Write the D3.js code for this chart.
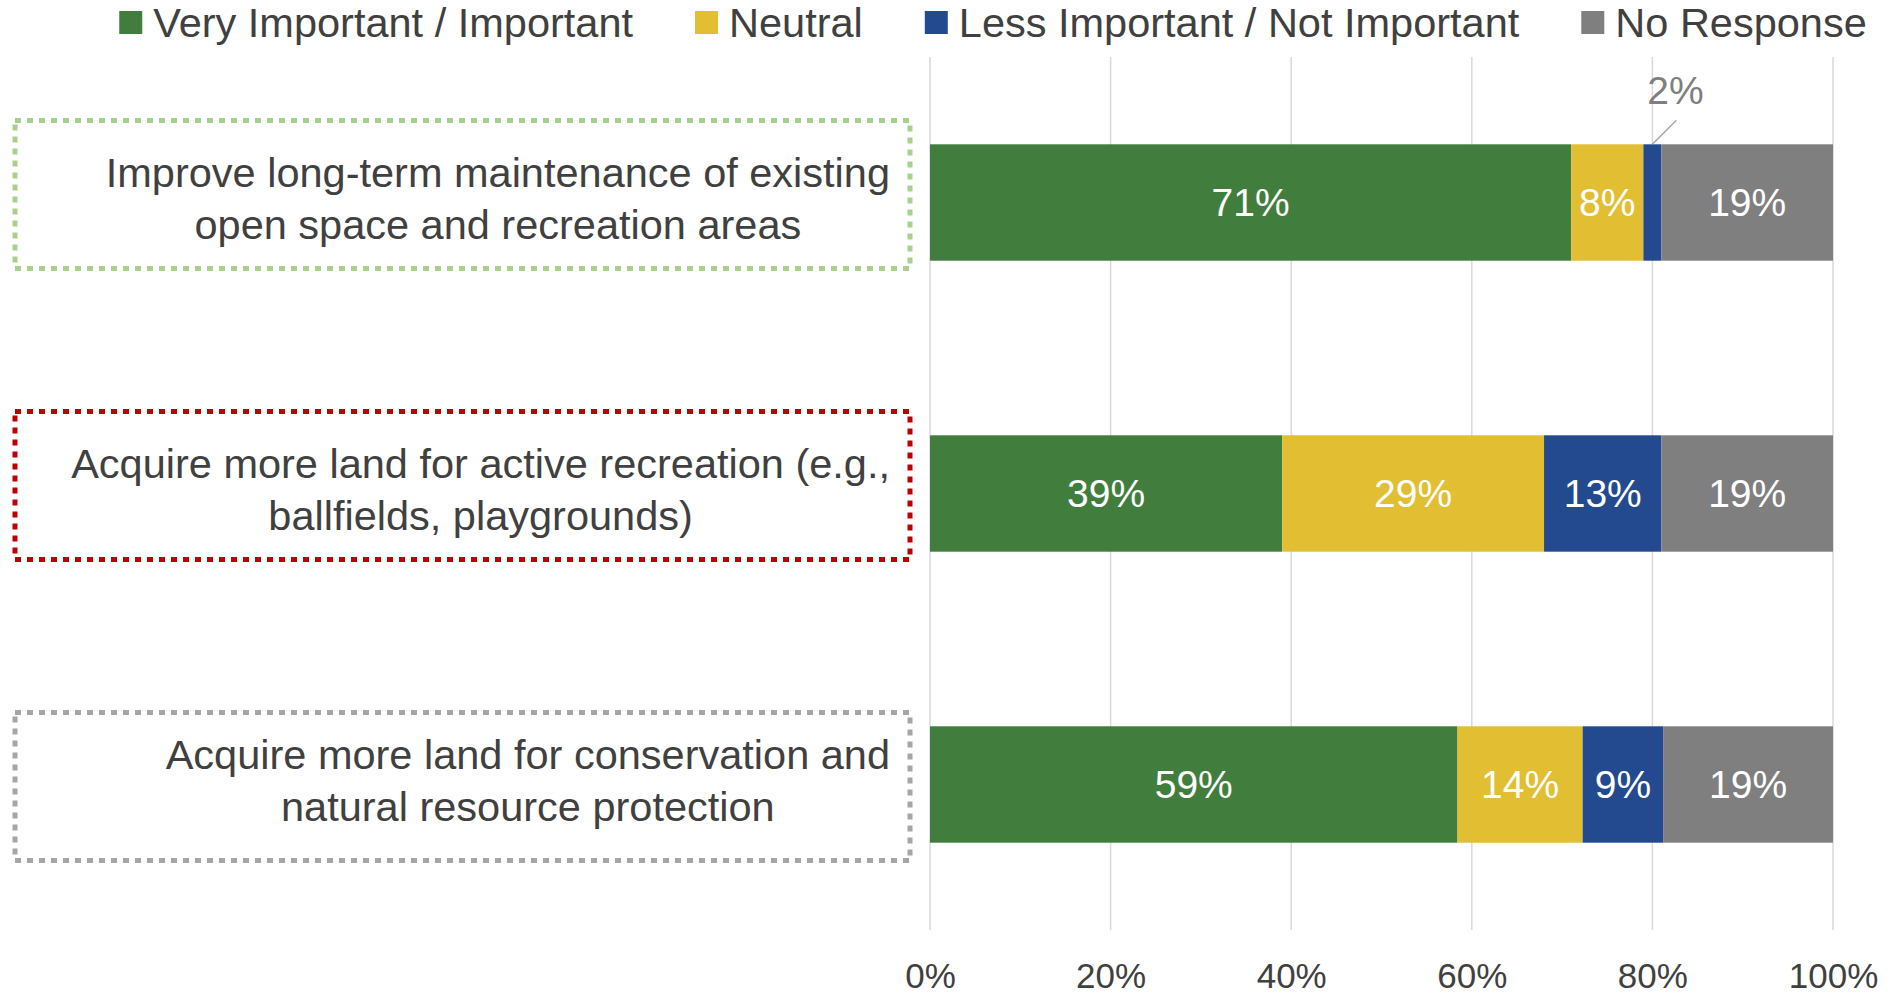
<!DOCTYPE html>
<html>
<head>
<meta charset="utf-8">
<script src="https://cdn.jsdelivr.net/npm/d3@7"></script>
<style>
  body { margin: 0; background: #ffffff; }
  svg { display: block; }
</style>
</head>
<body>
<svg id="chart" width="1897" height="1000"></svg>
<script>
// Survey priorities: share of responses per importance rating
const categories = [
  "Improve long-term maintenance of existing open space and recreation areas",
  "Acquire more land for active recreation (e.g., ballfields, playgrounds)",
  "Acquire more land for conservation and natural resource protection"
];
const categoryLines = [
  ["Improve long-term maintenance of existing", "open space and recreation areas"],
  ["Acquire more land for active recreation (e.g.,", "ballfields, playgrounds)"],
  ["Acquire more land for conservation and", "natural resource protection"]
];
const seriesNames = ["Very Important / Important", "Neutral", "Less Important / Not Important", "No Response"];
const veryImportant = [71, 39, 59];
const neutral = [8, 29, 14];
const lessImportant = [2, 13, 9];
const noResponse = [19, 19, 19];
const tickValues = [0, 0.2, 0.4, 0.6, 0.8, 1];

const seriesColors = ["#417E3E", "#E1BE32", "#234A8F", "#7F7F7F"];
const boxColors = ["#A9D18E", "#C00000", "#A6A6A6"];
// vertical nudge of each label box relative to its bar
const boxShift = [0, 0, 10];
const textColor = "#404040";
const labelFont = "'Liberation Sans', Arial, sans-serif";

const svg = d3.select("#chart");

const keys = ["k0", "k1", "k2", "k3"];
const rows = categories.map((c, i) => ({
  cat: c,
  k0: veryImportant[i],
  k1: neutral[i],
  k2: lessImportant[i],
  k3: noResponse[i]
}));

// 100% stacked layout
const stacked = d3.stack().keys(keys).offset(d3.stackOffsetExpand)(rows);

const x = d3.scaleLinear().domain([0, 1]).range([930, 1833]);
const y = d3.scaleBand().domain(categories).range([57, 930])
  .paddingInner(0.6).paddingOuter(0.3);

// vertical gridlines
svg.append("g").selectAll("line")
  .data(tickValues)
  .join("line")
  .attr("x1", d => x(d)).attr("x2", d => x(d))
  .attr("y1", 57).attr("y2", 930)
  .attr("stroke", "#D9D9D9").attr("stroke-width", 1.5);

// bars
const layers = svg.append("g").selectAll("g")
  .data(stacked)
  .join("g")
  .attr("fill", (d, i) => seriesColors[i]);

layers.selectAll("rect")
  .data(d => d.map(p => ({ p, key: d.key })))
  .join("rect")
  .attr("x", d => x(d.p[0]))
  .attr("width", d => x(d.p[1]) - x(d.p[0]))
  .attr("y", d => y(d.p.data.cat))
  .attr("height", y.bandwidth());

// value labels
const labelG = svg.append("g").attr("font-family", labelFont).attr("font-size", 39);
stacked.forEach((layer) => {
  layer.forEach(p => {
    const v = p.data[layer.key];
    const x0 = x(p[0]), x1 = x(p[1]);
    const cx = (x0 + x1) / 2;
    const top = y(p.data.cat);
    const cy = top + y.bandwidth() / 2;
    if (x1 - x0 >= 40) {
      labelG.append("text")
        .attr("x", cx).attr("y", cy)
        .attr("text-anchor", "middle")
        .attr("dominant-baseline", "central")
        .attr("fill", "#ffffff")
        .text(v + "%");
    } else {
      // narrow segment: label outside with a leader line
      labelG.append("line")
        .attr("x1", cx).attr("y1", top)
        .attr("x2", cx + 24).attr("y2", top - 24)
        .attr("stroke", "#A6A6A6").attr("stroke-width", 1.5);
      labelG.append("text")
        .attr("x", cx + 23).attr("y", top - 54)
        .attr("text-anchor", "middle")
        .attr("dominant-baseline", "central")
        .attr("fill", "#7F7F7F")
        .text(v + "%");
    }
  });
});

// x axis
const xAxis = d3.axisBottom(x)
  .tickValues(tickValues)
  .tickFormat(d3.format(".0%"))
  .tickSize(0)
  .tickPadding(0);
const axisG = svg.append("g")
  .attr("transform", "translate(0,963)")
  .call(xAxis);
axisG.select(".domain").remove();
axisG.selectAll("text")
  .attr("font-family", labelFont)
  .attr("font-size", 35)
  .attr("fill", textColor);

// category labels in dotted boxes
const catG = svg.append("g");
categories.forEach((c, i) => {
  const cy = y(c) + y.bandwidth() / 2;
  catG.append("rect")
    .attr("x", 15).attr("y", cy - 82 + boxShift[i])
    .attr("width", 895).attr("height", 148)
    .attr("fill", "none")
    .attr("stroke", boxColors[i])
    .attr("stroke-width", 5)
    .attr("stroke-dasharray", "6,6");
  const t = catG.append("text")
    .attr("font-family", labelFont)
    .attr("font-size", 41.5)
    .attr("fill", textColor)
    .attr("text-anchor", "middle");
  const lines = categoryLines[i];
  const spans = lines.map((ln, j) => t.append("tspan")
    .attr("y", cy - 4 + (j - (lines.length - 1) / 2) * 52)
    .attr("dominant-baseline", "central")
    .text(ln));
  const maxW = d3.max(spans, s => s.node().getComputedTextLength());
  const center = 890 - maxW / 2;
  spans.forEach(s => s.attr("x", center));
});

// legend, centred above the plot
const legend = svg.append("g").attr("font-family", labelFont).attr("font-size", 41.5);
const items = seriesNames.map((name, i) => {
  const g = legend.append("g");
  g.append("rect").attr("x", 0).attr("y", 11).attr("width", 23).attr("height", 23)
    .attr("fill", seriesColors[i]);
  const tx = g.append("text").attr("x", 34).attr("y", 22)
    .attr("dominant-baseline", "central")
    .attr("fill", textColor).text(name);
  return { g, w: 34 + tx.node().getComputedTextLength() };
});
const gap = 62;
const total = d3.sum(items, d => d.w) + gap * (items.length - 1);
let lx = 993 - total / 2;
items.forEach(it => {
  it.g.attr("transform", `translate(${lx},0)`);
  lx += it.w + gap;
});
</script>
</body>
</html>
